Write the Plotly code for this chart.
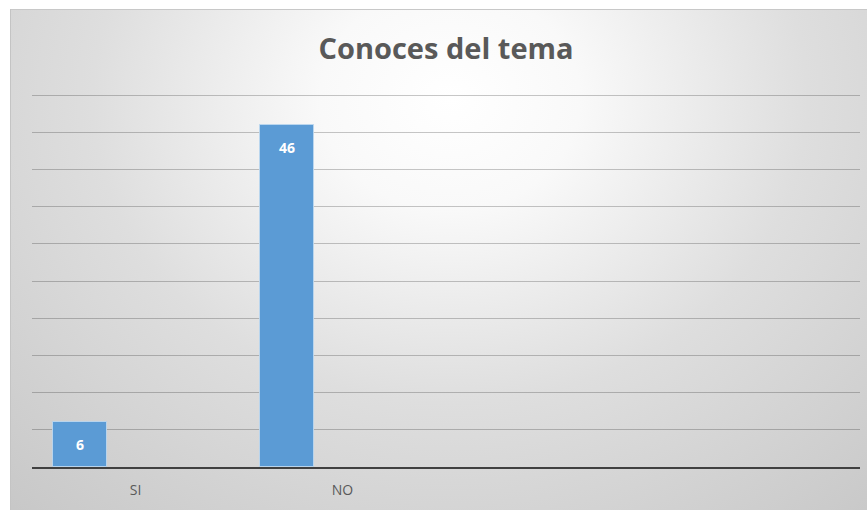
import base64
import plotly.graph_objects as go

# Survey answers
categories = ["SI", "NO"]
counts = [6, 46]

# Category slots on the x axis (two answers plus two empty slots)
n_slots = 4
bar_offset = -0.40
bar_width = 0.26
y_max = 50.3

W, H = 867, 510
L, R, T, B = 32, 7, 93, 43
plot_w = W - L - R
plot_h = H - T - B

# Soft radial backdrop for the chart area
bg_svg = f"""<svg xmlns='http://www.w3.org/2000/svg' width='857' height='501' viewBox='0 0 857 501' preserveAspectRatio='none'>
<defs>
<radialGradient id='g' gradientUnits='userSpaceOnUse' cx='440' cy='90' r='650' gradientTransform='translate(440 90) scale(1 0.85) translate(-440 -90)'>
<stop offset='0' stop-color='#ffffff'/>
<stop offset='0.2' stop-color='#f9f9f9'/>
<stop offset='0.55' stop-color='#dedede'/>
<stop offset='1' stop-color='#c8c8c8'/>
</radialGradient>
</defs>
<rect x='0' y='0' width='857' height='501' fill='url(#g)'/>
<line x1='0' y1='0.5' x2='857' y2='0.5' stroke='#c8c8c8' stroke-width='1'/>
<line x1='0.5' y1='0' x2='0.5' y2='501' stroke='#c4c4c4' stroke-width='1'/>
</svg>"""
bg_uri = "data:image/svg+xml;base64," + base64.b64encode(bg_svg.encode()).decode()

box_x0, box_y0 = 10, 9
img_x = (box_x0 - L) / plot_w
img_y = (H - B - box_y0) / plot_h
img_sx = (W - box_x0) / plot_w
img_sy = (H - box_y0) / plot_h

xs = list(range(len(categories)))

fig = go.Figure()
fig.add_trace(go.Bar(
    x=xs,
    y=counts,
    offset=bar_offset,
    width=bar_width,
    marker=dict(color="#5b9bd5", line=dict(color="rgba(189,215,238,0.9)", width=1)),
    hoverinfo="x+y",
))

annotations = []
for xi, v in zip(xs, counts):
    annotations.append(dict(
        x=xi + bar_offset + bar_width / 2, y=v, xref="x", yref="y",
        text=f"<b>{v}</b>", showarrow=False, yanchor="top", yshift=-11,
        font=dict(family="Open Sans", size=14, color="#ffffff"),
    ))

fig.update_layout(
    width=W, height=H,
    margin=dict(l=L, r=R, t=T, b=B),
    paper_bgcolor="#ffffff",
    plot_bgcolor="rgba(0,0,0,0)",
    showlegend=False,
    bargap=0,
    title=dict(
        text="<b>Conoces del tema</b>",
        x=446 / W, xanchor="center", y=1 - 49 / H, yanchor="middle",
        font=dict(family="Open Sans", size=29, color="#595959"),
    ),
    images=[dict(
        source=bg_uri, xref="paper", yref="paper",
        x=img_x, y=img_y, sizex=img_sx, sizey=img_sy,
        xanchor="left", yanchor="top", sizing="stretch", layer="below",
    )],
    annotations=annotations,
    xaxis=dict(
        range=[-0.5, n_slots - 0.5],
        tickvals=xs, ticktext=categories,
        showgrid=False, zeroline=False,
        showline=True, linecolor="#404040", linewidth=2,
        ticks="outside", ticklen=9, tickcolor="rgba(0,0,0,0)",
        tickfont=dict(family="Open Sans", size=14, color="#595959"),
        fixedrange=True,
    ),
    yaxis=dict(
        range=[0, y_max], dtick=5,
        showgrid=True, gridcolor="rgba(0,0,0,0.22)", gridwidth=1,
        zeroline=False, showticklabels=False, ticks="",
        fixedrange=True,
    ),
)

fig.write_html("out.html")
